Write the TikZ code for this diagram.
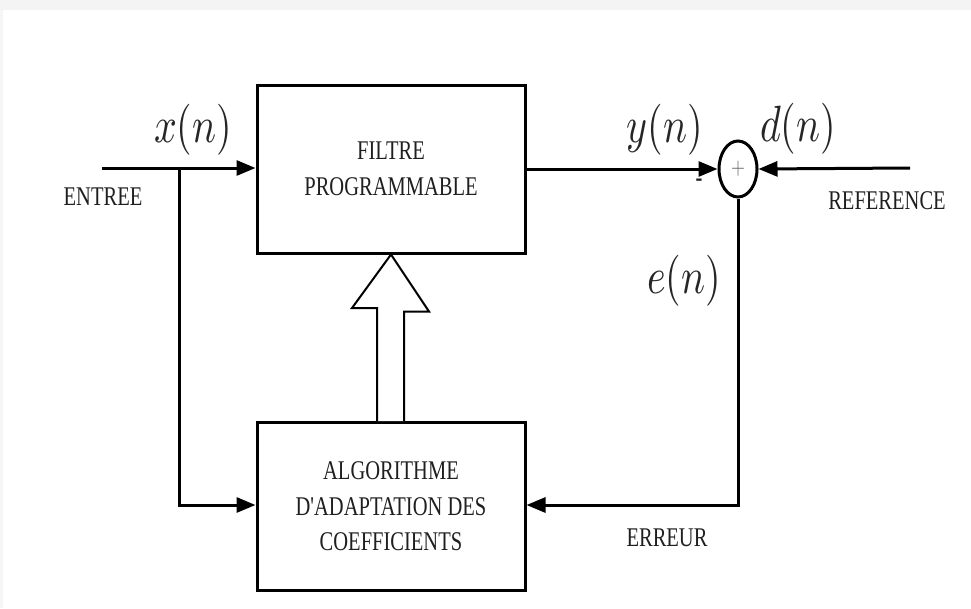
\documentclass[tikz,border=0pt]{standalone}
\usepackage{fontspec}
\usetikzlibrary{arrows.meta,shapes.geometric,calc}
\newfontfamily\lblfont[FakeStretch=0.76]{Liberation Serif}
% math labels are scaled from 10pt, taller than wide
\newcommand{\tallmath}[1]{\scalebox{4}[5.1]{$#1$}}

\begin{document}
\begin{tikzpicture}[x=1pt,y=-1pt,
  blk/.style={draw, line width=3pt, minimum width=268pt, minimum height=168pt,
    inner sep=0pt, align=center, text=black!88,
    font=\lblfont\fontsize{27}{35.5}\selectfont},
  wire/.style={line width=3pt},
  arr/.style={-{Triangle[length=19pt,width=15pt]}},
  lbl/.style={inner sep=0pt, text=black!88, font=\lblfont\fontsize{27}{32}\selectfont},
  mth/.style={inner sep=0pt, text=black!85},
  sumnode/.style={draw, ellipse, line width=3pt, minimum width=38pt,
    minimum height=56pt, inner sep=0pt}
]
\useasboundingbox (0,0) rectangle (971,608);
% window frame
\fill[gray!9] (0,0) rectangle (971,10);
\fill[gray!7] (0,10) rectangle (3,608);

% blocks
\node[blk] (filt) at (391,169) {FILTRE\\PROGRAMMABLE};
\node[blk] (algo) at (391,506.5) {ALGORITHME\\D'ADAPTATION DES\\COEFFICIENTS};
\node[sumnode] (sum) at (738,169) {\color{black!60}\scalebox{1.8}[2.3]{$+$}};

% signal points
\coordinate (in) at (102,168);
\coordinate (j) at (179,168);
\coordinate (ref) at (910,168);
\coordinate (ja) at (179,505);
\coordinate (ea) at (738,505);

% connectors
\draw[wire,arr] (in) -- (filt.west |- in);
\draw[wire,arr] (j) -- (ja) -- (algo.west |- ja);
\draw[wire,arr] (filt.east |- sum) -- (sum.west);
\draw[wire,arr] (ref) -- (sum.east);
\draw[wire,arr] (sum.south) -- (ea) -- (algo.east |- ea);

% adaptation arrow
\draw[line width=2pt, fill=white]
  ($(algo.north)+(-14,0)$) -- ++(0,-113) -- ++(-25,0) -- (filt.south)
  -- ($(filt.south)+(38,57)$) -- ++(-25,0) -- ($(algo.north)+(13,0)$);

% labels
\node[mth] (lx) at (193,130) {\tallmath{x(n)}};
\node[mth] (ly) at (665,130) {\tallmath{y(n)}};
\node[mth] (ld) at (798,129) {\tallmath{d(n)}};
\node[mth] (le) at (684,281) {\tallmath{e(n)}};
\node[lbl] (lentree) at (103,197) {ENTREE};
\node[lbl] (lref) at (887,201) {REFERENCE};
\node[lbl] (lerr) at (667,538) {ERREUR};
\node[lbl, font=\lblfont\bfseries\fontsize{27}{32}\selectfont] (lminus) at (699,183) {-};
\end{tikzpicture}
\end{document}
